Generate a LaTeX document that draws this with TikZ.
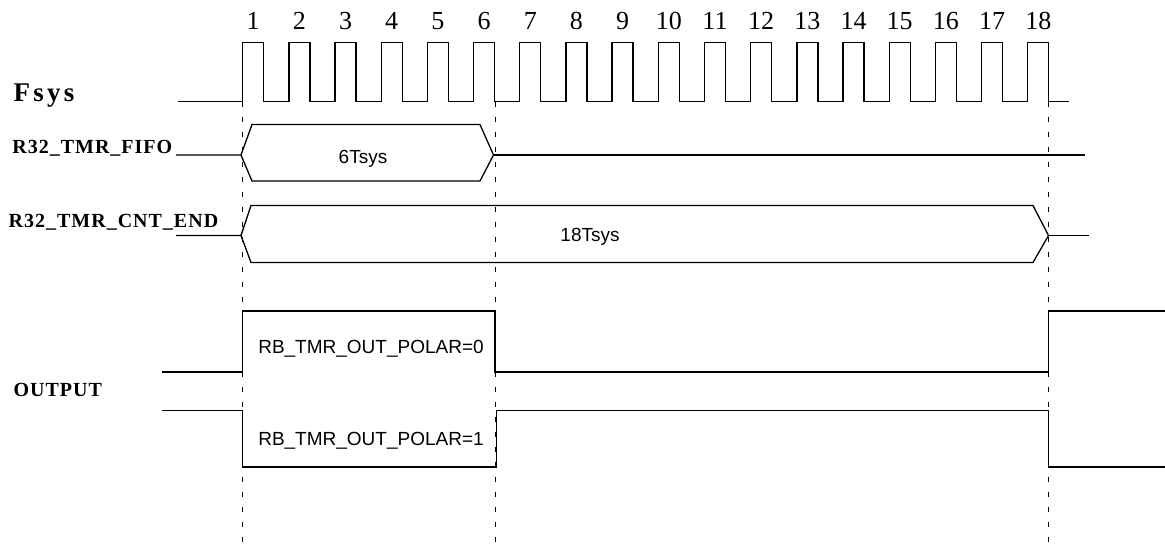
\documentclass[tikz,border=0pt]{standalone}
\usepackage{fontspec}
\setmainfont{Liberation Serif}
\newfontfamily\tsans{Liberation Sans}
\newfontfamily\tbold[LetterSpace=5]{Liberation Serif Bold}
\newfontfamily\tboldwide[LetterSpace=12]{Liberation Serif Bold}
\begin{document}
\begin{tikzpicture}[x=1pt,y=1pt,line width=1.3pt]
    \tikzstyle{every node}+=[inner sep=0pt]
    \tikzstyle{signame}=[font=\tbold\fontsize{20}{20}\selectfont,anchor=base west]
    \tikzstyle{cycnum}=[font=\fontsize{26}{26}\selectfont,anchor=base]
    \tikzstyle{valtext}=[font=\tsans\fontsize{19}{19}\selectfont,anchor=base]
    \tikzstyle{edgeline}=[black,line width=1.5pt,dash pattern=on 5pt off 10pt]
    \useasboundingbox (0,0) rectangle (1165,-551);
    \node[signame,font=\tboldwide\fontsize{27}{27}\selectfont] (fsys) at (13,-101.5) {Fsys};
    \node[signame] (fifo) at (11.7,-153) {R32\_TMR\_FIFO};
    \node[signame] (cntend) at (8,-227) {R32\_TMR\_CNT\_END};
    \node[signame] (output) at (13,-396) {OUTPUT};
    \foreach \k in {1,...,18}
        \node[cycnum] (cyc\k) at ({242.7+(\k-1)*46.18+10.5},-30) {\k};
    \draw (177.7,-101.7) -- (242.7,-101.7)
        \foreach \k in {1,...,17} { -- ++(0,59) -- ++(21,0) -- ++(0,-59) -- ++(25.18,0) }
        -- ++(0,59) -- ++(21,0) -- ++(0,-59) -- (1069,-101.7);
    \draw[edgeline] (242.7,-101.7) -- (242.7,-547);
    \draw[edgeline] (495.5,-101.7) -- (495.5,-547);
    \draw[edgeline] (1048.5,-101.7) -- (1048.5,-547);
    \draw (176,-155) -- (241,-155) -- (252,-124.5) -- (480,-124.5) -- (493.5,-155) -- (480,-181) -- (252,-181) -- (241,-155);
    \draw (493.5,-155) -- (1085,-155);
    \node[valtext] (fifoval) at (363,-163.5) {6Tsys};
    \draw (176,-235.5) -- (241,-235.5) -- (251,-205.5) -- (1033,-205.5) -- (1048.5,-235.5) -- (1033,-262.5) -- (251,-262.5) -- (241,-235.5);
    \draw (1048.5,-235.5) -- (1089,-235.5);
    \node[valtext] (cntval) at (590,-241) {18Tsys};
    \draw (161.7,-372) -- (242.7,-372) -- (242.7,-311) -- (495,-311) -- (495,-372) -- (1048.5,-372) -- (1048.5,-311) -- (1165,-311);
    \draw (161.7,-410.5) -- (242.7,-410.5) -- (242.7,-467) -- (496.5,-467) -- (496.5,-410.5) -- (1048.5,-410.5) -- (1048.5,-467) -- (1165,-467);
    \node[valtext] (polar0) at (371,-353) {RB\_TMR\_OUT\_POLAR=0};
    \node[valtext] (polar1) at (371,-445) {RB\_TMR\_OUT\_POLAR=1};
\end{tikzpicture}
\end{document}
